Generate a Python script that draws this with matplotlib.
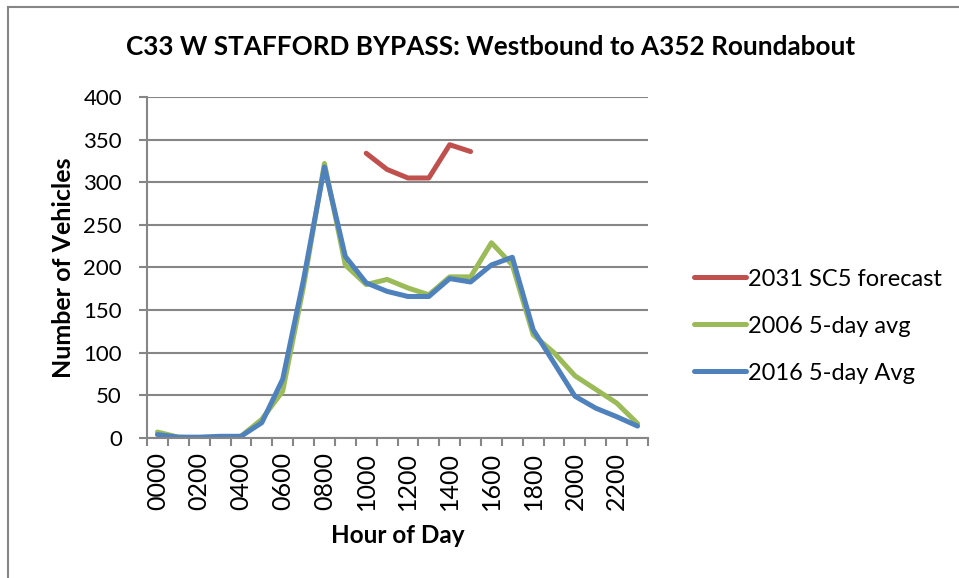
import numpy as np
import matplotlib.pyplot as plt
from matplotlib.lines import Line2D

# hourly counts
hours = ['%02d00' % h for h in range(24)]
sc5_2031 = [np.nan] * 10 + [334, 315, 305, 305, 344, 336] + [np.nan] * 8
avg_2006 = [7, 1, 0, 1, 2, 22, 55, 178, 322, 203, 180, 186, 176, 168, 189, 189,
            229, 203, 121, 100, 73, 57, 41, 17]
avg_2016 = [4, 1, 1, 2, 2, 18, 69, 186, 318, 213, 182, 172, 166, 166, 187, 183,
            203, 212, 127, 88, 49, 35, 25, 14]

plt.rcParams['font.family'] = ['Lato', 'DejaVu Sans']
grey = '#868686'

fig = plt.figure(figsize=(9.59, 5.78), dpi=100)
ax = fig.add_axes([0.1533, 0.2422, 0.5224, 0.59])

x = np.arange(len(hours))
ax.plot(x, sc5_2031, color='#C0504D', lw=3.6, solid_capstyle='round',
        label='2031 SC5 forecast')
ax.plot(x, avg_2006, color='#9BBB59', lw=3.6, solid_capstyle='round',
        label='2006 5-day avg')
ax.plot(x, avg_2016, color='#4F81BD', lw=3.6, solid_capstyle='round',
        label='2016 5-day Avg')

ax.set_xlim(-0.5, 23.5)
ax.set_ylim(0, 400)
ax.set_yticks(range(0, 401, 50))
ax.yaxis.grid(True, color=grey, lw=1.5)
ax.set_axisbelow(True)

ax.set_xticks(x[::2])
ax.set_xticklabels(hours[::2], rotation=90)
ax.set_xticks(np.arange(-0.5, 24, 1), minor=True)
ax.tick_params(axis='x', which='major', length=0, pad=10, labelsize=18)
ax.tick_params(axis='x', which='minor', length=6, width=1.5, color=grey)
ax.tick_params(axis='y', length=6, width=1.5, color=grey, labelsize=16, pad=12)

for s in ['top', 'right']:
    ax.spines[s].set_visible(False)
for s in ['left', 'bottom']:
    ax.spines[s].set_color(grey)
    ax.spines[s].set_linewidth(1.5)

ax.set_xlabel('Hour of Day', fontsize=17.5, fontweight='bold', labelpad=10)
ax.set_ylabel('Number of Vehicles', fontsize=18, fontweight='bold', labelpad=6)
fig.text(0.512, 0.919, 'C33 W STAFFORD BYPASS: Westbound to A352 Roundabout',
         ha='center', va='center', fontsize=18.8, fontweight='bold')

ax.legend(loc='center left', bbox_to_anchor=(1.049, 0.328), frameon=False,
          fontsize=17, handlelength=2.2, handletextpad=0.1, labelspacing=1.1)

# chart frame (left and top edges only visible)
fig.add_artist(Line2D([0.0083, 0.0083], [0, 0.988], color=grey, lw=1.5))
fig.add_artist(Line2D([0.0083, 1], [0.988, 0.988], color=grey, lw=1.5))

fig.savefig('out.png', dpi=100)
